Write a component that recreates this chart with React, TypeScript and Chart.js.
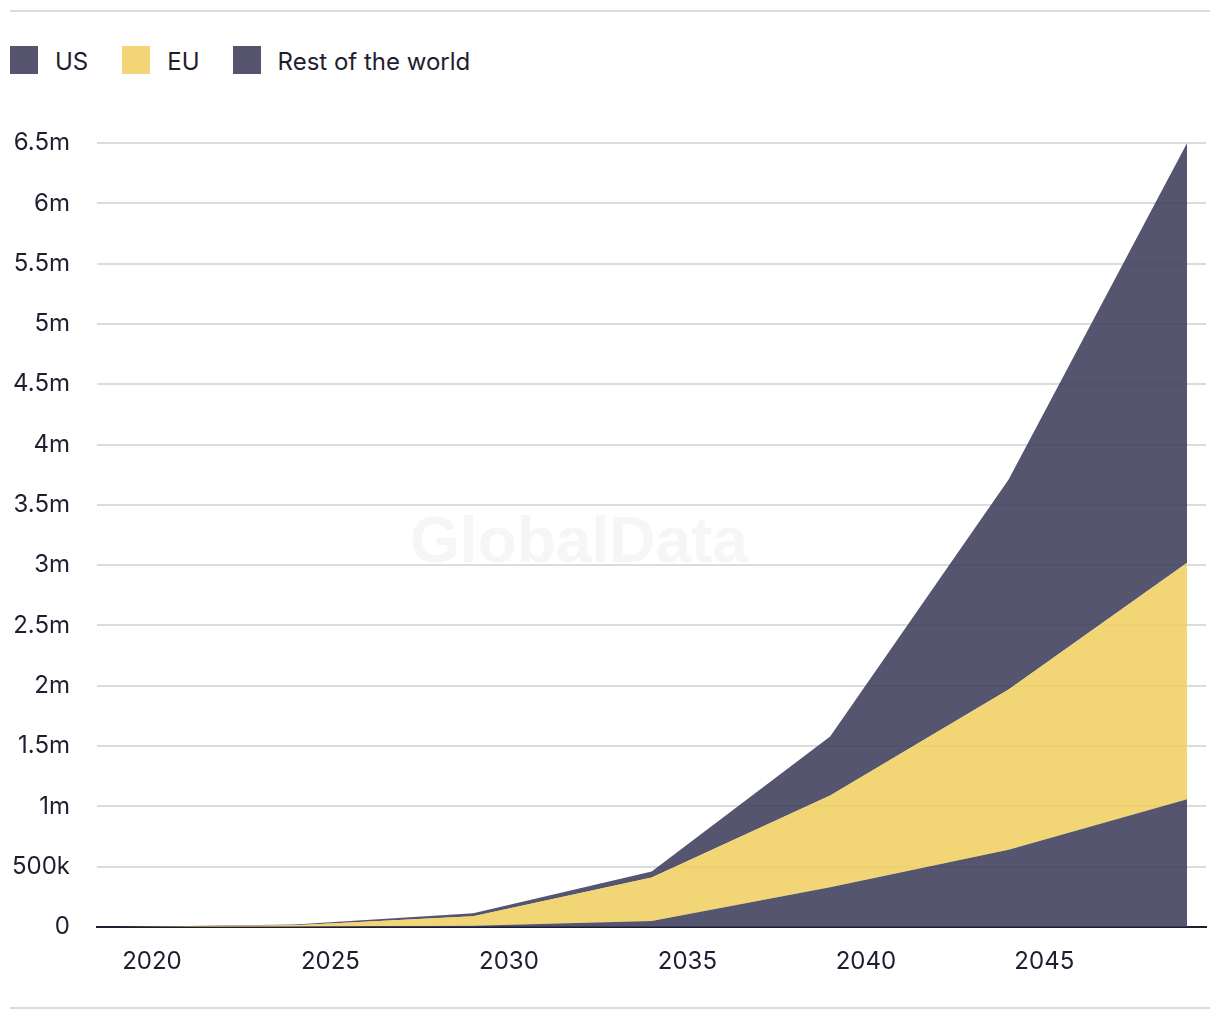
import React, { useEffect, useRef } from "react";
import { Chart, registerables } from "chart.js";

Chart.register(...registerables);

const years = [2019, 2024, 2029, 2034, 2039, 2044, 2049];
const usValues = [0, 3000, 10000, 50000, 330000, 640000, 1060000];
const euValues = [0, 12000, 80000, 360000, 760000, 1330000, 1960000];
const restValues = [0, 5000, 25000, 50000, 490000, 1740000, 3480000];
const xTickValues = [2020, 2025, 2030, 2035, 2040, 2045];
const seriesNames = ["US", "EU", "Rest of the world"];

const DARK = "rgba(63,61,92,0.88)";
const YELLOW = "rgba(240,208,98,0.88)";
const LEGEND_DARK = "#55536e";
const LEGEND_YELLOW = "#f2d675";
const TEXT = "#1e1e30";
const FONT = "Inter, 'Noto Sans', sans-serif";

function fmtY(v: number): string {
  if (v === 0) return "0";
  if (v < 1000000) return v / 1000 + "k";
  return v / 1000000 + "m";
}

export default function App() {
  const ref = useRef<HTMLCanvasElement | null>(null);

  useEffect(() => {
    if (!ref.current) return;
    const mk = (vals: number[]) => vals.map((v, i) => ({ x: years[i], y: v }));
    const chart = new Chart(ref.current, {
      type: "line",
      data: {
        datasets: [
          { label: seriesNames[0], data: mk(usValues), backgroundColor: DARK, borderWidth: 0, pointRadius: 0, fill: "origin" },
          { label: seriesNames[1], data: mk(euValues), backgroundColor: YELLOW, borderWidth: 0, pointRadius: 0, fill: "-1" },
          { label: seriesNames[2], data: mk(restValues), backgroundColor: DARK, borderWidth: 0, pointRadius: 0, fill: "-1" },
        ],
      },
      options: {
        animation: false,
        responsive: false,
        maintainAspectRatio: false,
        layout: { padding: { top: 135, left: 0, right: 6, bottom: 35 } },
        plugins: { legend: { display: false }, tooltip: { enabled: false } },
        scales: {
          x: {
            type: "linear",
            min: 2018.46,
            max: 2049.53,
            afterBuildTicks: (s: any) => {
              s.ticks = xTickValues.map((v) => ({ value: v }));
            },
            afterFit: (s: any) => {
              s.height = 50;
            },
            grid: { display: false, drawTicks: false },
            border: { display: true, color: TEXT, width: 2 },
            ticks: {
              padding: 20,
              color: TEXT,
              font: { family: FONT, size: 24 },
              callback: (v: any) => String(v),
              maxRotation: 0,
            },
          },
          y: {
            stacked: true,
            min: 0,
            max: 6500000,
            afterFit: (s: any) => {
              s.width = 89;
            },
            grid: {
              drawTicks: false,
              lineWidth: 2,
              color: (c: any) => (c.tick && c.tick.value === 0 ? TEXT : "#dcdcdc"),
            },
            border: { display: false },
            ticks: {
              stepSize: 500000,
              padding: 27,
              color: TEXT,
              font: { family: FONT, size: 24 },
              callback: (v: any) => fmtY(Number(v)),
            },
          },
        },
      },
    });
    return () => chart.destroy();
  }, []);

  const legendItems = [
    { name: seriesNames[0], color: LEGEND_DARK },
    { name: seriesNames[1], color: LEGEND_YELLOW },
    { name: seriesNames[2], color: LEGEND_DARK },
  ];

  return (
    <div style={{ position: "relative", width: 1204, height: 1004, fontFamily: FONT }}>
      <div style={{ position: "absolute", left: 2, top: 2, width: 1200, height: 2, background: "#dcdcdc" }} />
      <div style={{ position: "absolute", left: 2, top: 999, width: 1200, height: 2, background: "#dcdcdc" }} />
      <div
        style={{
          position: "absolute",
          left: 350,
          top: 500,
          width: 442,
          textAlign: "center",
          fontFamily: "'Liberation Sans', Arial, sans-serif",
          fontWeight: 700,
          fontSize: 64,
          color: "#f6f6f6",
          lineHeight: "64px",
        }}
      >
        GlobalData
      </div>
      <div style={{ position: "absolute", left: 2, top: 38, display: "flex", alignItems: "center", height: 28 }}>
        {legendItems.map((it, i) => (
          <div key={i} style={{ display: "flex", alignItems: "center", marginRight: i === 0 ? 34 : 33 }}>
            <div style={{ width: 28, height: 28, background: it.color, marginRight: 17 }} />
            <span style={{ fontSize: 24, color: TEXT, lineHeight: "28px", position: "relative", top: 2 }}>{it.name}</span>
          </div>
        ))}
      </div>
      <canvas ref={ref} width={1204} height={1004} style={{ position: "absolute", left: 0, top: 0 }} />
    </div>
  );
}
